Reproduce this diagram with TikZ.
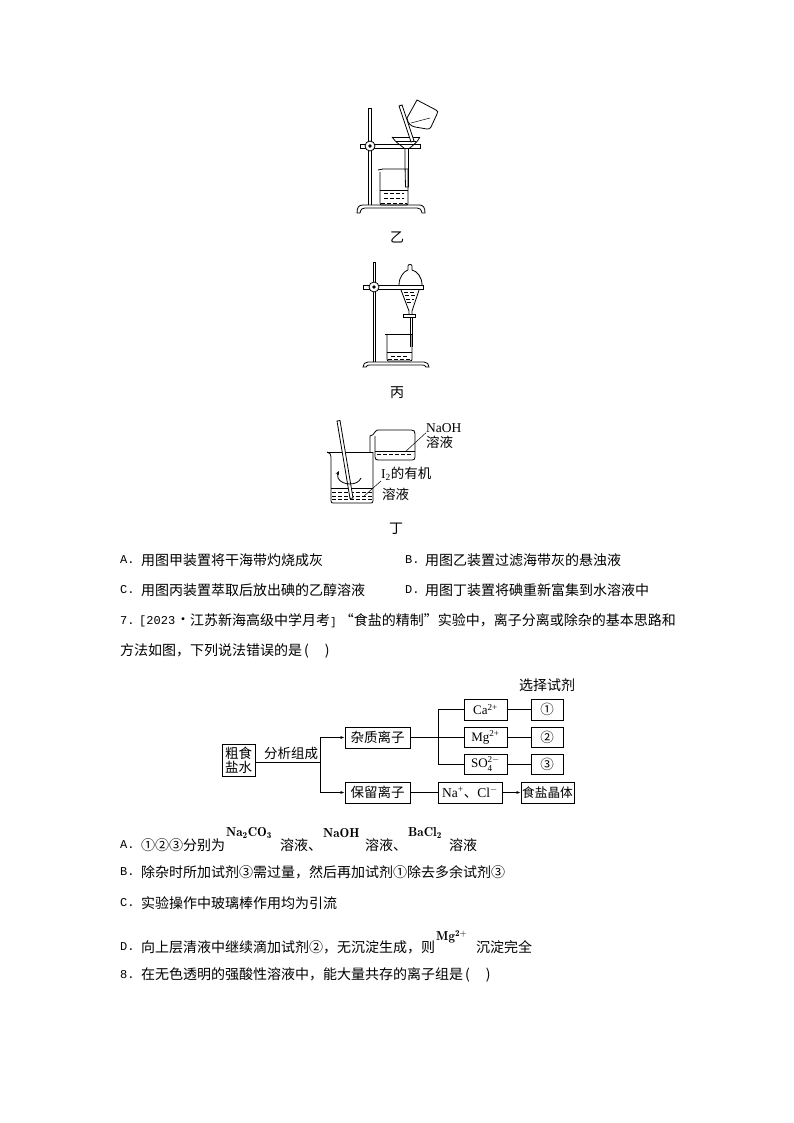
\documentclass[tikz,border=0pt]{standalone}
\usepackage{amsmath}
\usepackage{fontspec}
\usepackage{tikz}
\newfontfamily\cjk{Noto Sans CJK SC}
\newfontfamily\monolat{Liberation Mono}
\newfontfamily\serlat{Liberation Serif}
\newcommand{\qcomma}{\symbol{"FF0C}}
\tikzset{
  line/.style={draw=black,line width=0.5pt},
  glass/.style={draw=black,line width=0.8pt},
  liquid/.style={draw=black,line width=0.6pt,dash pattern=on 4pt off 2pt},
  body/.style={anchor=west,inner sep=0pt,font=\cjk\fontsize{14}{14}\selectfont},
  letter/.style={anchor=west,inner sep=0pt,font=\monolat\fontsize{12}{12}\selectfont},
  chem/.style={anchor=west,inner sep=0pt,font=\fontsize{13}{13}\selectfont},
  caption/.style={inner sep=0pt,font=\cjk\fontsize{14}{14}\selectfont},
  small/.style={inner sep=0pt,font=\cjk\fontsize{13.5}{14}\selectfont},
  box/.style={draw=black,line width=0.9pt,inner sep=0pt,align=center,font=\cjk\fontsize{13.5}{15}\selectfont},
  ion/.style={box,font=\serlat\fontsize{13}{13}\selectfont},
  link/.style={draw=black,line width=0.7pt},
  arrow/.style={link,-{Latex[length=4pt,width=3pt]}},
}
\usetikzlibrary{arrows.meta}
\begin{document}
\begin{tikzpicture}[x=1pt,y=-1pt]
  \useasboundingbox (0,0) rectangle (794,1123);
  \fill[white] (0,0) rectangle (794,1123);

  % stand B
  \draw[glass,fill=white] (368.5,108) rectangle (371,205);
  \draw[glass,fill=white] (357,213) .. controls (357,207) and (359,205) .. (363,205) -- (419,205) .. controls (423,205) and (425,207) .. (425,213) -- (422,213) .. controls (421,209) and (420,208) .. (417,208) -- (365,208) .. controls (362,208) and (361,209) .. (360,213) -- cycle;
  \draw[glass,fill=white] (360,144) rectangle (420,148.5);
  \draw[glass,fill=white] (370,146) circle (5);
  \fill (370,146) circle (1.8);
  \draw[glass] (392,137) -- (420,137);
  \draw[glass] (392,137) .. controls (396,143) and (402,146) .. (405,149) -- (405,165) -- (405.5,187) -- (408.5,187) -- (408.5,149) .. controls (412,146) and (417,143) .. (420,137);
  \draw[line] (396,141) -- (416,141);
  \draw[glass] (378,170) .. controls (380,170) and (380,169) .. (383,169) -- (408,169);
  \draw[glass] (380,172) -- (380,203) .. controls (380,205) and (381,205) .. (382,205) -- (406,205) .. controls (408,205) and (408,204) .. (408,203) -- (408,169);
  \draw[line] (380,190) -- (408,190);
  \draw[liquid] (384,193.5) -- (404,193.5);
  \draw[liquid] (384,198) -- (404,198);
  \draw[liquid] (381,203) -- (407,203);
  \draw[glass,fill=white] (399,106) -- (402,105) -- (414,141) -- (411,142) -- cycle;
  \draw[glass,fill=white] (407,118) -- (417,100) -- (436,110) .. controls (438,111) and (438,112) .. (437,114) -- (431,127) .. controls (430,129) and (429,129) .. (427,129) -- (415,127) .. controls (411,126) and (408,124) .. (407,118) -- cycle;
  \draw[line] (411,123) -- (430,118);
  \node[caption] (capB) at (397,237) {乙};

  % stand C
  \draw[glass,fill=white] (373,262) rectangle (375.5,362);
  \draw[glass,fill=white] (363,367) .. controls (363,364) and (365,362) .. (368,362) -- (424,362) .. controls (427,362) and (429,364) .. (429,367) -- (426,367) .. controls (425,365) and (424,365) .. (422,365) -- (370,365) .. controls (368,365) and (367,365) .. (366,367) -- cycle;
  \draw[glass,fill=white] (363,285.5) rectangle (423,289);
  \draw[glass,fill=white] (374,287) circle (5);
  \fill (374,287) circle (1.8);
  \draw[glass] (399,285) .. controls (399,277) and (404,271) .. (408,270) -- (408,266) .. controls (408,264) and (412,264) .. (412,266) -- (412,270) .. controls (417,271) and (422,277) .. (422,285);
  \draw[glass] (401,290) -- (409,311) -- (409,314);
  \draw[glass] (419,290) -- (412,311) -- (412,314);
  \draw[glass,fill=white] (403,314.5) rectangle (415,317.5);
  \draw[glass] (410,317.5) -- (410,347);
  \draw[glass] (412,317.5) -- (412,347);
  \draw[liquid] (404,292) -- (416,292);
  \draw[liquid] (405,295.5) -- (415,295.5);
  \draw[liquid] (406,299) -- (414,299);
  \draw[liquid] (407,302) -- (413,302);
  \draw[glass] (385,334) -- (412,334);
  \draw[glass] (387,335) -- (387,359) .. controls (387,361) and (388,361) .. (389,361) -- (410,361) .. controls (412,361) and (412,360) .. (412,359) -- (412,334);
  \draw[line] (387,352) -- (412,352);
  \draw[liquid] (391,356) -- (408,356);
  \draw[liquid] (388,359.5) -- (411,359.5);
  \node[caption] (capC) at (397,393) {丙};

  % beakers D
  \draw[glass] (327,452) -- (373,452);
  \draw[glass] (327,452) .. controls (330,453) and (331,454) .. (331,457) -- (331,501) .. controls (331,503) and (332,503) .. (334,503) -- (370,503) .. controls (372,503) and (373,503) .. (373,501) -- (373,452);
  \draw[line] (331,488) -- (373,488);
  \draw[liquid] (332,492) -- (372,492);
  \draw[liquid] (332,496) -- (372,496);
  \draw[liquid] (332,499.5) -- (372,499.5);
  \draw[glass,fill=white] (337,421) -- (340,420.5) -- (353,498) -- (350,498.5) -- cycle;
  \draw[glass,-{Stealth[length=4pt,width=3.5pt]}] (361,478) .. controls (358,486) and (342,486) .. (338,478) .. controls (337,475) and (338,473) .. (339,471);
  \draw[glass] (370,452) -- (370,436) .. controls (372,436) and (374,434) .. (375,432) .. controls (376,430) and (377,430) .. (379,430) -- (411,430) .. controls (414,430) and (415,431) .. (415,434) -- (415,457) .. controls (415,459) and (414,460) .. (412,460) -- (378,460) .. controls (376,460) and (375,459) .. (375,457) -- (375,436);
  \draw[line] (375,451) -- (415,451);
  \draw[liquid] (377,454) -- (413,454);
  \coordinate (naohEnd) at (405,452);
  \coordinate (iodineEnd) at (363,497);
  \node[small,anchor=west] (naohA) at (426,428) {\serlat NaOH};
  \node[small,anchor=west] (naohB) at (426,442) {溶液};
  \node[small,anchor=west] (iodineA) at (381,474) {\serlat I$_{\text{2}}$\cjk 的有机};
  \node[small,anchor=west] (iodineB) at (382,494) {溶液};
  \draw[line] (naohEnd) -- (naohA.south west);
  \draw[line] (iodineEnd) -- (iodineA.south west);
  \node[caption] (capD) at (396,529) {丁};

  % question 6 choices
  \node[letter] (optA) at (120,560) {A.};
  \node[body] (txtA) at (141,560) {用图甲装置将干海带灼烧成灰};
  \node[letter] (optB) at (405,560) {B.};
  \node[body] (txtB) at (425,560) {用图乙装置过滤海带灰的悬浊液};
  \node[letter] (optC) at (120,590) {C.};
  \node[body] (txtC) at (141,590) {用图丙装置萃取后放出碘的乙醇溶液};
  \node[letter] (optD) at (405,590) {D.};
  \node[body] (txtD) at (425,590) {用图丁装置将碘重新富集到水溶液中};

  % question 7
  \node[letter] (numSeven) at (120,621) {7.};
  \node[letter] (srcYear) at (139,621) {[2023};
  \node[body] (srcDot) at (176,621) {·};
  \node[body] (lineOne) at (190,621) {江苏新海高级中学月考{\monolat\fontsize{11}{11}\selectfont]}\hspace{3pt}“食盐的精制”实验中\qcomma 离子分离或除杂的基本思路和};
  \node[body] (lineTwo) at (120,651) {方法如图\qcomma 下列说法错误的是\hspace{2pt}(\hspace{16pt})};

  % flow chart
  \node[small,font=\cjk\fontsize{14}{14}\selectfont] (capReagent) at (547,685) {选择试剂};
  \node[box,minimum width=33pt,minimum height=32pt] (crude) at (238.5,760) {粗食\\[-1pt]盐水};
  \node[box,minimum width=65pt,minimum height=21pt] (impure) at (377.5,737.5) {杂质离子};
  \node[box,minimum width=65pt,minimum height=21pt] (keep) at (377.5,792.5) {保留离子};
  \node[ion,minimum width=43pt,minimum height=21pt] (calcium) at (485.5,709.5) {Ca$^{\text{2+}}$};
  \node[ion,minimum width=43pt,minimum height=20pt] (magnesium) at (485.5,737.5) {Mg$^{\text{2+}}$};
  \node[ion,minimum width=43pt,minimum height=20pt] (sulfate) at (485.5,764) {SO$_{\text{4}}^{\text{2$-$}}$};
  \node[box,minimum width=32pt,minimum height=21pt] (reagentA) at (547,709.5) {①};
  \node[box,minimum width=32pt,minimum height=20pt] (reagentB) at (547,737.5) {②};
  \node[box,minimum width=32pt,minimum height=20pt] (reagentC) at (547,764) {③};
  \node[box,minimum width=64pt,minimum height=21pt] (sodium) at (470,792.5) {\serlat Na$^{\text{+}}$\cjk 、\serlat Cl$^{-}$};
  \node[box,minimum width=53pt,minimum height=21pt,font=\cjk\fontsize{12.7}{14}\selectfont] (salt) at (547.5,792.5) {食盐晶体};
  \node[small] (analyse) at (291,753) {分析组成};
  \coordinate (splitA) at (320,762);
  \coordinate (splitB) at (438,737.5);
  \draw[link] (crude.east |- splitA) -- (splitA);
  \draw[arrow] (splitA) |- (impure.west);
  \draw[arrow] (splitA) |- (keep.west);
  \draw[link] (impure.east) -- (magnesium.west);
  \draw[link] (splitB) |- (calcium.west);
  \draw[link] (splitB) |- (sulfate.west);
  \draw[link] (calcium) -- (reagentA);
  \draw[link] (magnesium) -- (reagentB);
  \draw[link] (sulfate) -- (reagentC);
  \draw[link] (keep) -- (sodium);
  \draw[arrow] (sodium) -- (salt);

  % question 7 choices
  \node[letter] (choiceA) at (120,845) {A.};
  \node[body] (choiceAa) at (141,845) {①②③分别为};
  \node[chem] (formulaA) at (226,833) {$\mathbf{Na_2CO_3}$};
  \node[body] (choiceAb) at (280,845) {溶液、};
  \node[chem] (formulaB) at (323,833) {$\mathbf{NaOH}$};
  \node[body] (choiceAc) at (365,845) {溶液、};
  \node[chem] (formulaC) at (408,833) {$\mathbf{BaCl_2}$};
  \node[body] (choiceAd) at (449,845) {溶液};
  \node[letter] (choiceB) at (120,872) {B.};
  \node[body] (choiceBa) at (141,872) {除杂时所加试剂③需过量\qcomma 然后再加试剂①除去多余试剂③};
  \node[letter] (choiceC) at (120,903) {C.};
  \node[body] (choiceCa) at (141,903) {实验操作中玻璃棒作用均为引流};
  \node[letter] (choiceD) at (120,947) {D.};
  \node[body] (choiceDa) at (141,947) {向上层清液中继续滴加试剂②\qcomma 无沉淀生成\qcomma 则};
  \node[chem] (formulaD) at (436,937) {$\mathbf{Mg^{2+}}$};
  \node[body] (choiceDb) at (476,947) {沉淀完全};

  % question 8
  \node[letter] (numEight) at (120,975) {8.};
  \node[body] (lineEight) at (141,975) {在无色透明的强酸性溶液中\qcomma 能大量共存的离子组是\hspace{2pt}(\hspace{16pt})};
\end{tikzpicture}
\end{document}
